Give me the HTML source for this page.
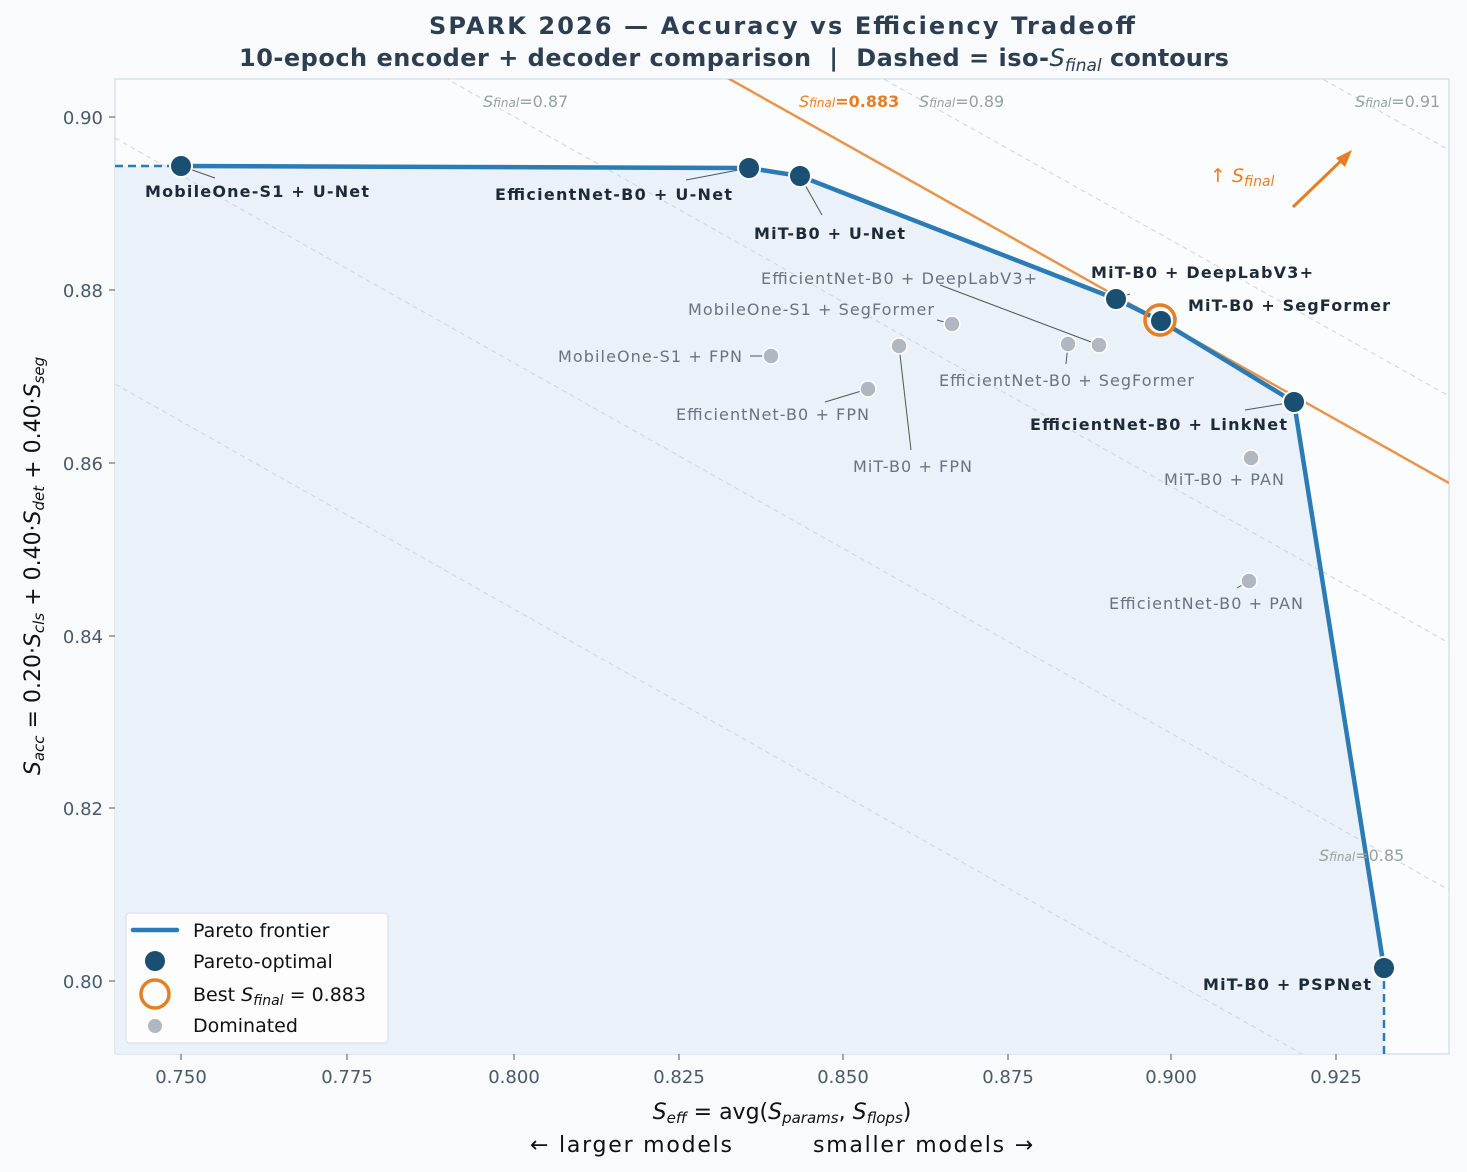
<!DOCTYPE html><html><head><meta charset="utf-8"><style>body{margin:0;background:#f8fafc}svg{display:block}text{font-family:"DejaVu Sans","Liberation Sans",sans-serif;white-space:pre}</style></head><body>
<svg width="1467" height="1172" viewBox="0 0 1467 1172" xmlns="http://www.w3.org/2000/svg" xml:space="preserve">
<rect width="1467" height="1172" fill="#f8fafc"/>
<defs><clipPath id="c"><rect x="115" y="79" width="1334" height="975"/></clipPath></defs>
<rect x="115" y="79" width="1334" height="975" fill="#fbfcfe" stroke="#cbd5e1"/>
<g clip-path="url(#c)">
<polygon points="115,166 181,166 749,168 800,176 1116,299 1161,321 1294,402 1384,968 1384,1054 115,1054" fill="#e8f0f7" opacity="0.9"/>
<g stroke="#cbd5e1" stroke-width="1" stroke-dasharray="5,4" fill="none">
<line x1="115" y1="384" x2="1449" y2="1137"/>
<line x1="115" y1="138" x2="1449" y2="890"/>
<line x1="115" y1="-108" x2="1449" y2="643"/>
<line x1="115" y1="-352" x2="1449" y2="396"/>
<line x1="115" y1="-599" x2="1449" y2="150"/>
</g>
<line x1="115" y1="-266" x2="1449" y2="483" stroke="#e8954a" stroke-width="2.5"/>
<polyline points="181,166 749,168 800,176 1116,299 1161,321 1294,402 1384,968" fill="none" stroke="#2b7bb5" stroke-width="4.5"/>
<line x1="115" y1="166" x2="181" y2="166" stroke="#2b7bb5" stroke-width="2.5" stroke-dasharray="8,5"/>
<line x1="1384" y1="968" x2="1384" y2="1054" stroke="#2b7bb5" stroke-width="2.5" stroke-dasharray="8,5"/>
</g>
<g font-size="16" fill="#94a3a0">
<text x="483" y="107"><tspan font-style="italic">S</tspan><tspan font-style="italic" font-size="12">final</tspan>=0.87</text>
<text x="919" y="107"><tspan font-style="italic">S</tspan><tspan font-style="italic" font-size="12">final</tspan>=0.89</text>
<text x="1355" y="107"><tspan font-style="italic">S</tspan><tspan font-style="italic" font-size="12">final</tspan>=0.91</text>
<text x="1319" y="861"><tspan font-style="italic">S</tspan><tspan font-style="italic" font-size="12">final</tspan>=0.85</text>
</g>
<text x="799" y="107" font-size="16" fill="#e67e22" font-weight="bold"><tspan font-weight="normal" font-style="italic">S</tspan><tspan font-size="12" font-weight="normal" font-style="italic">final</tspan>=0.883</text>
<text x="1210" y="182" font-size="19" fill="#e67e22">↑ <tspan font-style="italic">S</tspan><tspan font-size="14" font-style="italic" dy="4">final</tspan></text>
<line x1="1293" y1="207" x2="1345" y2="157" stroke="#e67e22" stroke-width="3"/>
<polygon points="1352,150 1336,158 1345,167" fill="#e67e22"/>
<g stroke="#555" stroke-width="1" fill="none">
<line x1="181" y1="166" x2="215" y2="178"/><line x1="749" y1="168" x2="686" y2="180"/>
<line x1="800" y1="176" x2="822" y2="215"/><line x1="1116" y1="299" x2="1130" y2="294"/>
<line x1="1161" y1="321" x2="1177" y2="318"/><line x1="1294" y1="402" x2="1245" y2="410"/>
<line x1="771" y1="356" x2="750" y2="356"/><line x1="868" y1="389" x2="825" y2="402"/>
<line x1="899" y1="346" x2="911" y2="450"/><line x1="952" y1="324" x2="937" y2="320"/>
<line x1="1068" y1="344" x2="1066" y2="364"/><line x1="1099" y1="345" x2="940" y2="285"/>
<line x1="1249" y1="581" x2="1237" y2="588"/>
</g>
<g fill="#b0b7c0" stroke="#fff" stroke-width="1.5">
<circle cx="771" cy="356" r="8"/><circle cx="868" cy="389" r="8"/><circle cx="899" cy="346" r="8"/><circle cx="952" cy="324" r="8"/><circle cx="1068" cy="344" r="8"/><circle cx="1099" cy="345" r="8"/><circle cx="1251" cy="458" r="8"/><circle cx="1249" cy="581" r="8"/>
</g>
<g fill="#1b4f72" stroke="#fff" stroke-width="2">
<circle cx="181" cy="166" r="11"/><circle cx="749" cy="168" r="11"/><circle cx="800" cy="176" r="11"/><circle cx="1116" cy="299" r="11"/><circle cx="1161" cy="321" r="11"/><circle cx="1294" cy="402" r="11"/><circle cx="1384" cy="968" r="11"/>
</g>
<circle cx="1160" cy="320" r="15" fill="none" stroke="#e67e22" stroke-width="3.5"/>
<g font-size="16" font-weight="bold" fill="#1e2a38">
<text x="145" y="197" textLength="224">MobileOne-S1 + U-Net</text>
<text x="495" y="200" textLength="237">EfficientNet-B0 + U-Net</text>
<text x="754" y="239" textLength="151">MiT-B0 + U-Net</text>
<text x="1091" y="278" textLength="222">MiT-B0 + DeepLabV3+</text>
<text x="1188" y="311" textLength="202">MiT-B0 + SegFormer</text>
<text x="1030" y="430" textLength="257">EfficientNet-B0 + LinkNet</text>
<text x="1203" y="990" textLength="168">MiT-B0 + PSPNet</text>
</g>
<g font-size="16" fill="#6b7280">
<text x="761" y="284" textLength="276">EfficientNet-B0 + DeepLabV3+</text>
<text x="688" y="315" textLength="246">MobileOne-S1 + SegFormer</text>
<text x="558" y="362" textLength="184">MobileOne-S1 + FPN</text>
<text x="939" y="386" textLength="255">EfficientNet-B0 + SegFormer</text>
<text x="676" y="420" textLength="193">EfficientNet-B0 + FPN</text>
<text x="853" y="472" textLength="119">MiT-B0 + FPN</text>
<text x="1164" y="485" textLength="120">MiT-B0 + PAN</text>
<text x="1109" y="609" textLength="194">EfficientNet-B0 + PAN</text>
</g>
<g stroke="#555" stroke-width="1">
<line x1="181" y1="1054" x2="181" y2="1060"/><line x1="347" y1="1054" x2="347" y2="1060"/><line x1="514" y1="1054" x2="514" y2="1060"/><line x1="679" y1="1054" x2="679" y2="1060"/><line x1="843" y1="1054" x2="843" y2="1060"/><line x1="1008" y1="1054" x2="1008" y2="1060"/><line x1="1171" y1="1054" x2="1171" y2="1060"/><line x1="1336" y1="1054" x2="1336" y2="1060"/>
<line x1="109" y1="117" x2="115" y2="117"/><line x1="109" y1="290" x2="115" y2="290"/><line x1="109" y1="463" x2="115" y2="463"/><line x1="109" y1="636" x2="115" y2="636"/><line x1="109" y1="808" x2="115" y2="808"/><line x1="109" y1="981" x2="115" y2="981"/>
</g>
<g font-size="18" fill="#4a5a6a" text-anchor="middle">
<text x="181" y="1083">0.750</text><text x="347" y="1083">0.775</text><text x="514" y="1083">0.800</text><text x="679" y="1083">0.825</text><text x="843" y="1083">0.850</text><text x="1008" y="1083">0.875</text><text x="1171" y="1083">0.900</text><text x="1336" y="1083">0.925</text>
</g>
<g font-size="18" fill="#4a5a6a" text-anchor="end">
<text x="103" y="124">0.90</text><text x="103" y="297">0.88</text><text x="103" y="470">0.86</text><text x="103" y="643">0.84</text><text x="103" y="815">0.82</text><text x="103" y="988">0.80</text>
</g>
<text x="782" y="1119" font-size="22" text-anchor="middle" fill="#111"><tspan font-style="italic">S</tspan><tspan font-size="15" font-style="italic" dy="4">eff</tspan><tspan dy="-4"> = avg(</tspan><tspan font-style="italic">S</tspan><tspan font-size="15" font-style="italic" dy="4">params</tspan><tspan dy="-4">, </tspan><tspan font-style="italic">S</tspan><tspan font-size="15" font-style="italic" dy="4">flops</tspan><tspan dy="-4">)</tspan></text>
<text x="530" y="1152" font-size="22" fill="#111" textLength="202">← larger models</text>
<text x="813" y="1152" font-size="22" fill="#111" textLength="220">smaller models →</text>
<text transform="translate(40,566) rotate(-90)" font-size="22" text-anchor="middle" fill="#111"><tspan font-style="italic">S</tspan><tspan font-size="15" font-style="italic" dy="4">acc</tspan><tspan dy="-4"> = 0.20·</tspan><tspan font-style="italic">S</tspan><tspan font-size="15" font-style="italic" dy="4">cls</tspan><tspan dy="-4"> + 0.40·</tspan><tspan font-style="italic">S</tspan><tspan font-size="15" font-style="italic" dy="4">det</tspan><tspan dy="-4"> + 0.40·</tspan><tspan font-style="italic">S</tspan><tspan font-size="15" font-style="italic" dy="4">seg</tspan></text>
<text x="429" y="34" font-size="24" font-weight="bold" fill="#2c3e50" textLength="706">SPARK 2026 — Accuracy vs Efficiency Tradeoff</text>
<text x="239" y="66" font-size="24" font-weight="bold" fill="#2c3e50"><tspan textLength="810">10-epoch encoder + decoder comparison  |  Dashed = iso-</tspan><tspan font-style="italic" font-weight="normal">S</tspan><tspan font-size="17" font-style="italic" font-weight="normal" dy="5">final</tspan><tspan dy="-5"> contours</tspan></text>
<rect x="126" y="913" width="262" height="130" rx="4" fill="#fdfdfe" stroke="#d8dde3"/>
<line x1="133" y1="930" x2="177" y2="930" stroke="#2b7bb5" stroke-width="4.5" stroke-linecap="round"/>
<circle cx="155" cy="961" r="10" fill="#1b4f72"/>
<circle cx="155" cy="994" r="14" fill="none" stroke="#e67e22" stroke-width="3.5"/>
<circle cx="155" cy="1026" r="7" fill="#b0b7c0"/>
<g font-size="19" fill="#111"><text x="193" y="937">Pareto frontier</text><text x="193" y="968">Pareto-optimal</text><text x="193" y="1001">Best <tspan font-style="italic">S</tspan><tspan font-size="14" font-style="italic" dy="4">final</tspan><tspan dy="-4"> = 0.883</tspan></text><text x="193" y="1032">Dominated</text></g>
</svg></body></html>
